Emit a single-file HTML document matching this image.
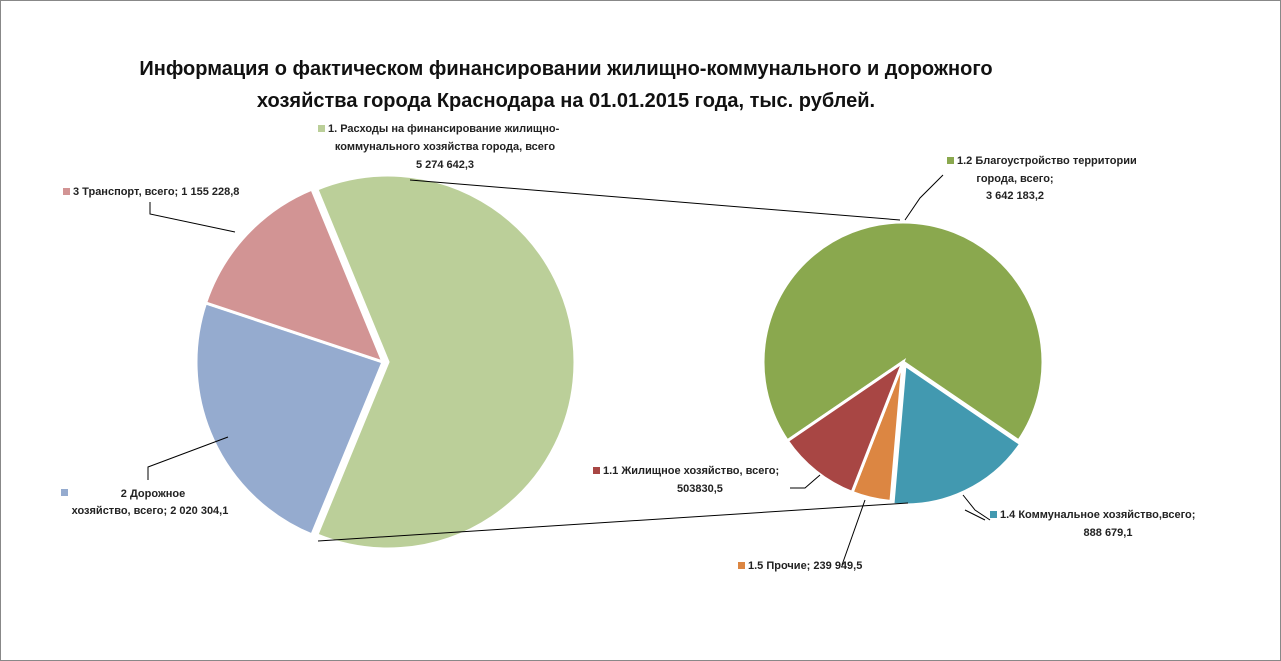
<!DOCTYPE html>
<html><head><meta charset="utf-8">
<style>
body{margin:0;background:#fff;}
svg{display:block;font-family:"Liberation Sans",sans-serif;}
.lbl{font-size:11px;font-weight:bold;fill:#222;}
.ttl{font-size:20px;font-weight:bold;fill:#111;}
</style></head><body>
<svg id="c" width="1281" height="661" viewBox="0 0 1281 661">
<rect x="0.5" y="0.5" width="1280" height="660" fill="#fff" stroke="#888"/>
<text class="ttl" x="566" y="75" text-anchor="middle">Информация о фактическом финансировании жилищно-коммунального и дорожного</text>
<text class="ttl" x="566" y="107" text-anchor="middle">хозяйства города Краснодара на 01.01.2015 года, тыс. рублей.</text>
<g id="g"></g>
</svg>
<script>
const mainCats=["1. Расходы на финансирование жилищно-коммунального хозяйства","2 Дорожное хозяйство","3 Транспорт"];
const mainVals=[5274642.3,2020304.1,1155228.8];
const subCats=["1.2 Благоустройство территории","1.4 Коммунальное хозяйство","1.5 Прочие","1.1 Жилищное хозяйство"];
const subVals=[3642183.2,888679.1,239949.5,503830.5];
const mainColors=["#bbcf99","#95abcf","#d29494"];
const subColors=["#8aa84e","#4299b0","#dc8642","#a84644"];
const NS="http://www.w3.org/2000/svg";
const g=document.getElementById('g');
function pt(cx,cy,r,a){const t=a*Math.PI/180;return [cx+r*Math.sin(t),cy-r*Math.cos(t)];}
function slice(cx,cy,r,a0,a1,col,name){
  const p0=pt(cx,cy,r,a0),p1=pt(cx,cy,r,a1);
  const el=document.createElementNS(NS,'path');
  el.setAttribute('d',`M${cx},${cy}L${p0[0]},${p0[1]}A${r},${r} 0 ${a1-a0>180?1:0} 1 ${p1[0]},${p1[1]}Z`);
  el.setAttribute('fill',col);el.setAttribute('stroke','#fff');el.setAttribute('stroke-width','3');
  
  
  g.appendChild(el);
}
// main pie
const mt=mainVals.reduce((a,b)=>a+b,0);
let span0=mainVals[0]/mt*360;let a=90-span0/2;
mainVals.forEach((v,i)=>{const s=v/mt*360;let cx=383,cy=362;
  if(i===0){cx+=5;}
  slice(cx,cy,187,a,a+s,mainColors[i],'main-slice-'+(i+1));a+=s;});
// sub pie
const st=subVals.reduce((a,b)=>a+b,0);
let sspan=subVals[0]/st*360;let b=-sspan/2;
subVals.forEach((v,i)=>{const s=v/st*360;let cx=903,cy=362;
  if(i===1){cx+=2;cy+=3;}
  slice(cx,cy,140,b,b+s,subColors[i],'sub-slice-'+(i+1));b+=s;});
function line(pts,name){const el=document.createElementNS(NS,'polyline');
  el.setAttribute('points',pts);el.setAttribute('fill','none');el.setAttribute('stroke','#000');el.setAttribute('stroke-width','1');
  
  
  g.appendChild(el);}
line("410,180 900,220",'connector-top');
line("318,541 908,503",'connector-bottom');
line("150,202 150,214 235,232",'leader-transport');
line("148,480 148,467 228,437",'leader-road');
line("790,488 805,488 820,475",'leader-housing');
line("943,175 920,198 905,220",'leader-improvement');
line("965,510 985,520",'leader-communal');
line("990,520 975,510 963,495",'leader-communal2');
line("842,565 865,500",'leader-other');
function text(x,y,str,anchor,name){const el=document.createElementNS(NS,'text');
  el.setAttribute('x',x);el.setAttribute('y',y);el.setAttribute('class','lbl');el.setAttribute('text-anchor',anchor);
  el.textContent=str;
  
  
  g.appendChild(el);}
function sq(x,y,col,name){const el=document.createElementNS(NS,'rect');
  el.setAttribute('x',x);el.setAttribute('y',y);el.setAttribute('width',7);el.setAttribute('height',7);el.setAttribute('fill',col);
  
  
  g.appendChild(el);}
sq(318,125,mainColors[0],'label-key-1');
text(328,132,"1. Расходы на финансирование жилищно-",'start','label-1-line1');
text(445,150,"коммунального  хозяйства города, всего",'middle','label-1-line2');
text(445,168,"5 274 642,3",'middle','label-1-line3');
sq(63,188,mainColors[2],'label-key-3');
text(73,195,"3 Транспорт, всего; 1 155 228,8",'start','label-3');
sq(61,489,mainColors[1],'label-key-2');
text(153,497,"2 Дорожное",'middle','label-2-line1');
text(150,514,"хозяйство, всего; 2 020 304,1",'middle','label-2-line2');
sq(947,157,subColors[0],'label-key-12');
text(957,164,"1.2 Благоустройство территории",'start','label-12-line1');
text(1015,182,"города, всего;",'middle','label-12-line2');
text(1015,199,"3 642 183,2",'middle','label-12-line3');
sq(593,467,subColors[3],'label-key-11');
text(603,474,"1.1 Жилищное хозяйство, всего;",'start','label-11-line1');
text(700,492,"503830,5",'middle','label-11-line2');
sq(990,511,subColors[1],'label-key-14');
text(1000,518,"1.4 Коммунальное хозяйство,всего;",'start','label-14-line1');
text(1108,536,"888 679,1",'middle','label-14-line2');
sq(738,562,subColors[2],'label-key-15');
text(748,569,"1.5 Прочие; 239 949,5",'start','label-15');
</script>
</body></html>
